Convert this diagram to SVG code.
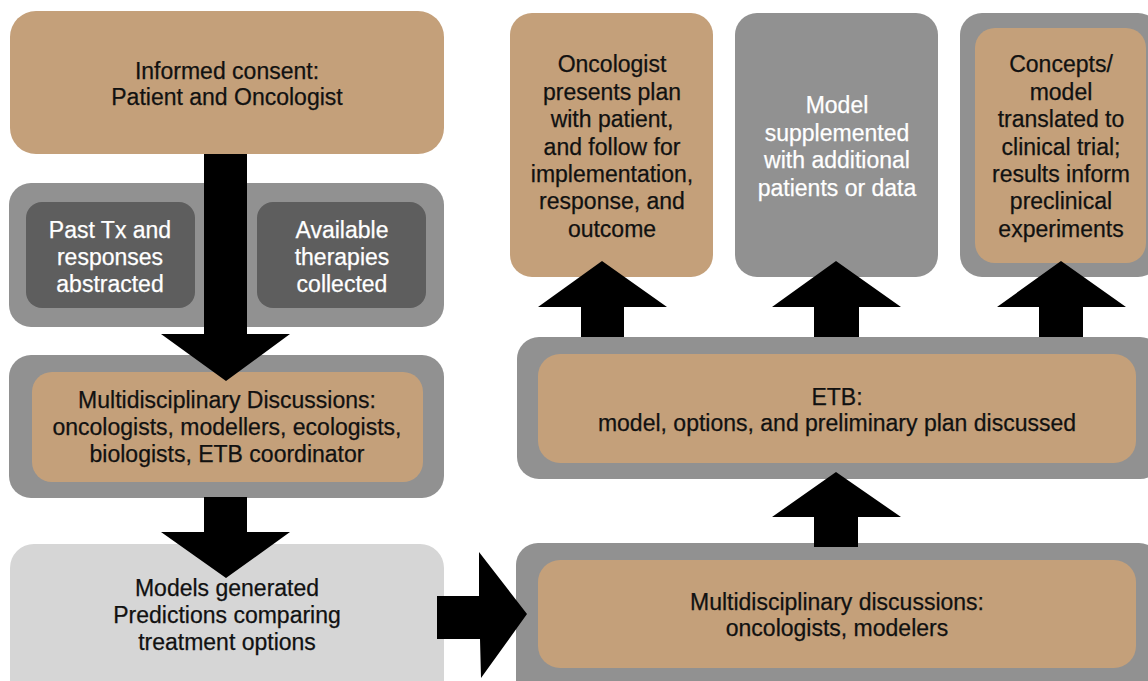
<svg xmlns="http://www.w3.org/2000/svg" width="1148" height="681" viewBox="0 0 1148 681">
<style>
.tan{fill:#c4a07a}
.gray{fill:#919191}
.dark{fill:#5e5e5e}
.light{fill:#d6d6d6}
text{font-family:"Liberation Sans",Arial,sans-serif;font-size:23px;text-anchor:middle}
.b{fill:#111111;stroke:#111111;stroke-width:0.25px}
.w{fill:#ffffff;stroke:#ffffff;stroke-width:0.25px}
.arrow{fill:#000000}
</style>
<rect width="1148" height="681" fill="#ffffff"/>
<g id="informed-consent">
<rect class="tan" x="10" y="11" width="434" height="143" rx="26"/>
<text class="b" x="227" y="79">Informed consent:</text>
<text class="b" x="227" y="105">Patient and Oncologist</text>
</g>
<g id="data-collection">
<rect class="gray" x="9" y="183" width="435" height="144" rx="22"/>
<g id="past-tx">
<rect class="dark" x="26" y="202" width="169" height="106" rx="16"/>
<text class="w" x="110" y="238">Past Tx and</text>
<text class="w" x="110" y="265">responses</text>
<text class="w" x="110" y="292">abstracted</text>
</g>
<g id="available-therapies">
<rect class="dark" x="257" y="202" width="169" height="106" rx="16"/>
<text class="w" x="342" y="238">Available</text>
<text class="w" x="342" y="265">therapies</text>
<text class="w" x="342" y="292">collected</text>
</g>
</g>
<g id="multidisciplinary-left">
<rect class="gray" x="9" y="355" width="435" height="143" rx="22"/>
<rect class="tan" x="32" y="372" width="391" height="110" rx="20"/>
<text class="b" x="227" y="408">Multidisciplinary Discussions:</text>
<text class="b" x="227" y="435">oncologists, modellers, ecologists,</text>
<text class="b" x="227" y="462">biologists, ETB coordinator</text>
</g>
<g id="models-generated">
<rect class="light" x="10" y="544" width="434" height="160" rx="24"/>
<text class="b" x="227" y="596">Models generated</text>
<text class="b" x="227" y="623">Predictions comparing</text>
<text class="b" x="227" y="650">treatment options</text>
</g>
<g id="oncologist-presents">
<rect class="tan" x="510" y="13" width="203" height="264" rx="22"/>
<text class="b" x="612" y="72">Oncologist</text>
<text class="b" x="612" y="100">presents plan</text>
<text class="b" x="612" y="127">with patient,</text>
<text class="b" x="612" y="155">and follow for</text>
<text class="b" x="612" y="182">implementation,</text>
<text class="b" x="612" y="209">response, and</text>
<text class="b" x="612" y="237">outcome</text>
</g>
<g id="model-supplemented">
<rect class="gray" x="735" y="13" width="203" height="264" rx="22"/>
<text class="w" x="837" y="113">Model</text>
<text class="w" x="837" y="141">supplemented</text>
<text class="w" x="837" y="168">with additional</text>
<text class="w" x="837" y="196">patients or data</text>
</g>
<g id="concepts">
<rect class="gray" x="960" y="13" width="200" height="264" rx="22"/>
<rect class="tan" x="975" y="28" width="171" height="235" rx="20"/>
<text class="b" x="1061" y="72">Concepts/</text>
<text class="b" x="1061" y="100">model</text>
<text class="b" x="1061" y="127">translated to</text>
<text class="b" x="1061" y="155">clinical trial;</text>
<text class="b" x="1061" y="182">results inform</text>
<text class="b" x="1061" y="209">preclinical</text>
<text class="b" x="1061" y="237">experiments</text>
</g>
<g id="etb">
<rect class="gray" x="517" y="337" width="645" height="142" rx="22"/>
<rect class="tan" x="538" y="354" width="598" height="109" rx="22"/>
<text class="b" x="837" y="405">ETB:</text>
<text class="b" x="837" y="431">model, options, and preliminary plan discussed</text>
</g>
<g id="multidisciplinary-right">
<rect class="gray" x="516" y="543" width="645" height="160" rx="22"/>
<rect class="tan" x="538" y="560" width="598" height="108" rx="22"/>
<text class="b" x="837" y="610">Multidisciplinary discussions:</text>
<text class="b" x="837" y="636">oncologists, modelers</text>
</g>
<g id="connectors">
<polygon class="arrow" points="204,154 247,154 247,334 290,334 226,381 161,334 204,334"/>
<polygon class="arrow" points="204,497 247,497 247,532 290,532 226,578 161,532 204,532"/>
<polygon class="arrow" points="437,596 479,596 479,552 527,614 481,678 480,639 437,639"/>
<polygon class="arrow" points="581,337 624,337 624,307 667,307 602,261 538,307 581,307"/>
<polygon class="arrow" points="814,337 859,337 859,307 901,307 836,261 772,307 814,307"/>
<polygon class="arrow" points="1039,337 1083,337 1083,307 1126,307 1061,261 997,307 1039,307"/>
<polygon class="arrow" points="814,547 858,547 858,517 901,517 836,472 772,517 814,517"/>
</g>
</svg>
